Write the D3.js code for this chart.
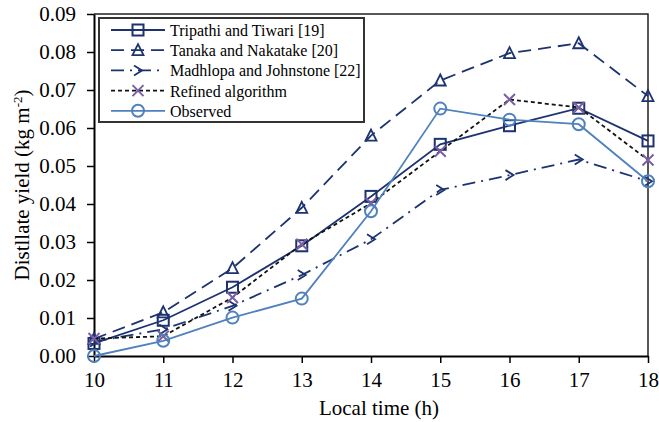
<!DOCTYPE html>
<html>
<head>
<meta charset="utf-8">
<script src="https://cdn.jsdelivr.net/npm/d3@7"></script>
<style>
  html, body { margin: 0; padding: 0; background: #fff; }
  svg { display: block; font-family: "Liberation Serif", "Times New Roman", serif; }
</style>
</head>
<body>
<svg id="chart" width="659" height="422"></svg>
<script>
// Hourly distillate yield (kg m^-2), 10:00 to 18:00
const hours = [10, 11, 12, 13, 14, 15, 16, 17, 18];
const tripathi  = [0.0033, 0.0094, 0.0181, 0.0290, 0.0420, 0.0557, 0.0606, 0.0652, 0.0566];
const tanaka    = [0.0045, 0.0115, 0.0231, 0.0390, 0.0580, 0.0725, 0.0797, 0.0823, 0.0684];
const madhlopa  = [0.0038, 0.0070, 0.0132, 0.0213, 0.0307, 0.0437, 0.0476, 0.0517, 0.0460];
const refined   = [0.0046, 0.0052, 0.0154, 0.0294, 0.0402, 0.0539, 0.0675, 0.0654, 0.0516];
const observed  = [0.0000, 0.0040, 0.0101, 0.0151, 0.0381, 0.0651, 0.0622, 0.0610, 0.0460];
const yTicks = [0, 0.01, 0.02, 0.03, 0.04, 0.05, 0.06, 0.07, 0.08, 0.09];
const seriesNames = ["Tripathi and Tiwari [19]", "Tanaka and Nakatake [20]", "Madhlopa and Johnstone [22]", "Refined algorithm", "Observed"];

const navy = "#1c3370", purple = "#7b5ea3", blue = "#4f81bd";
const series = [
  { name: seriesNames[0], values: tripathi, color: navy, dash: null, width: 1.8, marker: "square", mcolor: navy },
  { name: seriesNames[1], values: tanaka,   color: navy, dash: "13,7", width: 1.8, marker: "triangle", mcolor: navy },
  { name: seriesNames[2], values: madhlopa, color: navy, dash: "13,6,2,6", width: 1.8, marker: "chevron", mcolor: navy },
  { name: seriesNames[3], values: refined,  color: "#111", dash: "4,3", width: 1.8, marker: "cross", mcolor: purple },
  { name: seriesNames[4], values: observed, color: blue, dash: null, width: 1.8, marker: "circle", mcolor: blue }
];

const svg = d3.select("#chart");
const m = { left: 94, right: 648, top: 14, bottom: 356 };

const x = d3.scaleLinear().domain([10, 18]).range([m.left, m.right]);
const y = d3.scaleLinear().domain([0, 0.09]).range([m.bottom, m.top]);

// Plot frame (top and right edges)
svg.append("path")
  .attr("d", `M${m.left},${m.top}H${m.right}V${m.bottom}`)
  .attr("fill", "none").attr("stroke", "#222").attr("stroke-width", 1.5);

// Axes
const xAxis = svg.append("g").attr("transform", `translate(0,${m.bottom})`)
  .call(d3.axisBottom(x).tickValues(hours).tickSize(7).tickSizeOuter(0).tickPadding(9).tickFormat(d3.format("d")));
const yAxis = svg.append("g").attr("transform", `translate(${m.left},0)`)
  .call(d3.axisLeft(y).tickValues(yTicks).tickSize(7).tickSizeOuter(0).tickPadding(11).tickFormat(d3.format(".2f")));
[xAxis, yAxis].forEach(g => {
  g.select(".domain").attr("stroke", "#000").attr("stroke-width", 2);
  g.selectAll(".tick line").attr("stroke", "#000").attr("stroke-width", 1.5);
  g.selectAll(".tick text").attr("fill", "#000").style("font-size", "21px")
    .style("font-family", "'Liberation Serif', 'Times New Roman', serif");
});

// Axis titles
svg.append("text").attr("x", 379).attr("y", 415)
  .attr("text-anchor", "middle").style("font-size", "21px").text("Local time (h)");
const yt = svg.append("text")
  .attr("transform", `translate(29,${(m.top + m.bottom) / 2}) rotate(-90)`)
  .attr("text-anchor", "middle").style("font-size", "21px");
yt.append("tspan").text("Distllate yield (kg m");
yt.append("tspan").attr("dy", -7).style("font-size", "13px").text("-2");
yt.append("tspan").attr("dy", 7).text(")");

// Marker shapes
function drawMarker(g, type, cx, cy, color) {
  const s = 5.5;
  if (type === "square") {
    g.append("rect").attr("x", cx - s).attr("y", cy - s).attr("width", 2 * s).attr("height", 2 * s)
      .attr("fill", "none").attr("stroke", color).attr("stroke-width", 2);
  } else if (type === "triangle") {
    g.append("path").attr("d", `M${cx},${cy - 6}L${cx + 5.5},${cy + 5}L${cx - 5.5},${cy + 5}Z`)
      .attr("fill", "none").attr("stroke", color).attr("stroke-width", 1.8);
  } else if (type === "chevron") {
    g.append("path").attr("d", `M${cx - 4},${cy - 5}L${cx + 4},${cy}L${cx - 4},${cy + 5}`)
      .attr("fill", "none").attr("stroke", color).attr("stroke-width", 1.8);
  } else if (type === "cross") {
    g.append("path").attr("d", `M${cx - 5.5},${cy - 5.5}L${cx + 5.5},${cy + 5.5}M${cx + 5.5},${cy - 5.5}L${cx - 5.5},${cy + 5.5}`)
      .attr("fill", "none").attr("stroke", color).attr("stroke-width", 2);
  } else if (type === "circle") {
    g.append("circle").attr("cx", cx).attr("cy", cy).attr("r", 6)
      .attr("fill", "none").attr("stroke", color).attr("stroke-width", 2);
  }
}

// Series lines and markers
const line = d3.line().x((d, i) => x(hours[i])).y(d => y(d));
series.forEach(s => {
  const g = svg.append("g");
  g.append("path").attr("d", line(s.values)).attr("fill", "none")
    .attr("stroke", s.color).attr("stroke-width", s.width)
    .attr("stroke-dasharray", s.dash);
  s.values.forEach((v, i) => drawMarker(g, s.marker, x(hours[i]), y(v), s.mcolor));
});

// Legend
const lg = svg.append("g");
lg.append("rect").attr("x", 99).attr("y", 18).attr("width", 265).attr("height", 104)
  .attr("fill", "#fff").attr("stroke", "#333").attr("stroke-width", 2);
series.forEach((s, i) => {
  const ly = 30 + i * 20.2;
  lg.append("line").attr("x1", 111).attr("x2", 165).attr("y1", ly).attr("y2", ly)
    .attr("stroke", s.color).attr("stroke-width", s.width).attr("stroke-dasharray", s.dash);
  drawMarker(lg, s.marker, 138, ly, s.mcolor);
  lg.append("text").attr("x", 170).attr("y", ly + 6).style("font-size", "16px").text(s.name);
});
</script>
</body>
</html>
